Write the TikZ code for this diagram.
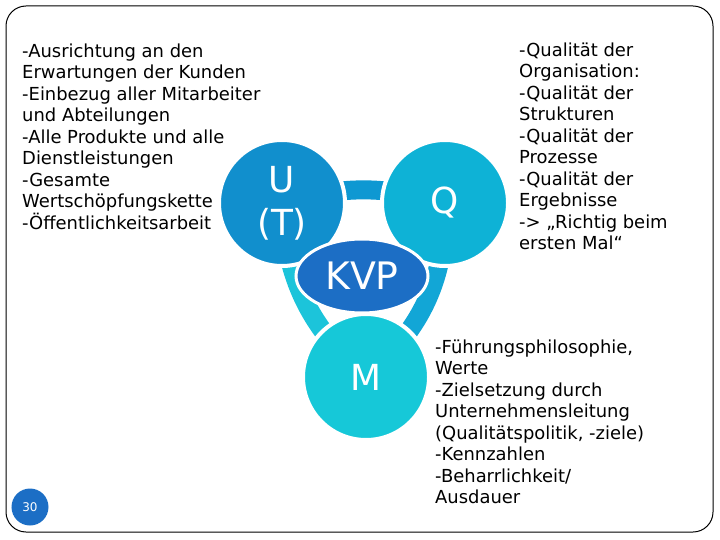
\documentclass[tikz,border=0pt]{standalone}
\usepackage{fontspec}
\setmainfont{DejaVu Sans}
\usetikzlibrary{shapes.geometric, backgrounds}
\definecolor{kreisU}{RGB}{17,143,205}
\definecolor{kreisQ}{RGB}{14,178,214}
\definecolor{kreisM}{RGB}{22,200,216}
\definecolor{kvp}{RGB}{28,110,197}
\definecolor{bandUQ}{RGB}{14,152,210}
\definecolor{bandQM}{RGB}{18,166,214}
\definecolor{bandMU}{RGB}{28,196,218}
\tikzset{
  kreis/.style={circle, minimum size=126bp, inner sep=0pt, draw=white, line width=4bp, text=white, font=\fontsize{36}{43}\selectfont, align=center},
  band/.style={line width=19bp},
  liste/.style={anchor=north west, inner sep=0pt, align=left, font=\fontsize{18}{21.6}\selectfont},
}

\begin{document}
\begin{tikzpicture}[x=1bp, y=-1bp]
    \useasboundingbox (0,0) rectangle (720,540);
    \draw[line width=1bp, rounded corners=20bp] (6,6) rectangle (713,532);

    \node[kreis, fill=kreisU] (U) at (282,203) {U\\(T)};
    \node[kreis, fill=kreisQ] (Q) at (445,203) {Q};
    \node[kreis, fill=kreisM] (M) at (366,377) {M};
    \node[ellipse, minimum width=132bp, minimum height=74bp, inner sep=0pt, fill=kvp, draw=white, line width=3bp,
      text=white, font=\fontsize{38}{38}\selectfont] (KVP) at (362,276) {KVP};

    \begin{scope}[on background layer]
      \draw[band, bandUQ] (U.center) to[bend left=16] (Q.center);
      \draw[band, bandQM] (Q.center) to[bend left=25] (M.center);
      \draw[band, bandMU] (M.center) to[bend left=23] (U.center);
    \end{scope}

    \node[liste] (links) at (22,43.5) {-Ausrichtung an den\\Erwartungen der Kunden\\-Einbezug aller Mitarbeiter\\und Abteilungen\\-Alle Produkte und alle\\Dienstleistungen\\-Gesamte\\Wertschöpfungskette\\-Öffentlichkeitsarbeit};
    \node[liste] (rechts) at (519,42.5) {-Qualität der\\Organisation:\\-Qualität der\\Strukturen\\-Qualität der\\Prozesse\\-Qualität der\\Ergebnisse\\-> „Richtig beim\\ersten Mal“};
    \node[liste] (unten) at (435,339.5) {-Führungsphilosophie,\\Werte\\-Zielsetzung durch\\Unternehmensleitung\\(Qualitätspolitik, -ziele)\\-Kennzahlen\\-Beharrlichkeit/\\Ausdauer};

    \node[circle, fill=kvp, minimum size=37bp, inner sep=0pt, text=white, font=\fontsize{12}{12}\selectfont] (seite) at (30,507) {30};
  \end{tikzpicture}
\end{document}
